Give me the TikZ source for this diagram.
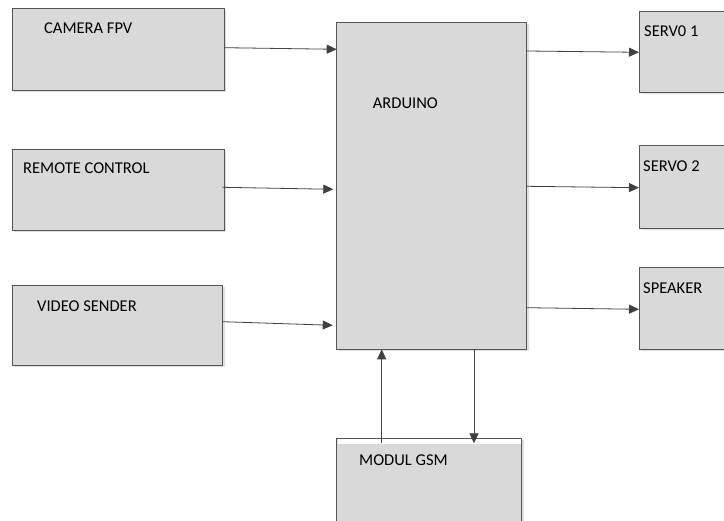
\documentclass[tikz,border=0pt]{standalone}
\usepackage{fontspec}
\setmainfont{Carlito}
\usetikzlibrary{arrows.meta,calc,shadows}
\definecolor{boxfill}{HTML}{D9D9D9}
\definecolor{boxline}{HTML}{555555}
\definecolor{arrline}{HTML}{404040}
\tikzset{
  blk/.style={draw=boxline, line width=0.9pt, fill=boxfill, anchor=north west,
    inner sep=0pt, outer sep=0pt,
    drop shadow={shadow xshift=1.8pt, shadow yshift=-1.8pt, fill=black!25, opacity=0.5}},
  lbl/.style={anchor=base west, inner sep=0pt, font=\fontsize{16.5}{18}\selectfont, text=black},
  conn/.style={draw=arrline, line width=0.8pt, -{Triangle[length=10pt,width=9pt]}}
}
\begin{document}
\begin{tikzpicture}[x=1pt,y=-1pt]
\useasboundingbox (0,0) rectangle (724,521);
\clip (0,0) rectangle (724,521);
% boxes
\node[blk, minimum width=212pt, minimum height=81.7pt] (cam) at (12.3,8.3) {};
\node[blk, minimum width=212pt, minimum height=81.7pt] (rc) at (12.3,149) {};
\node[blk, minimum width=210.4pt, minimum height=80.7pt] (vs) at (12.3,285) {};
\node[blk, minimum width=190pt, minimum height=326.6pt] (ard) at (336.7,22.7) {};
\node[blk, minimum width=110pt, minimum height=81.3pt] (s1) at (639,11) {};
\node[blk, minimum width=110pt, minimum height=82.3pt] (s2) at (639,145.7) {};
\node[blk, minimum width=110pt, minimum height=81.6pt] (sp) at (639,267.7) {};
\node[blk, minimum width=185pt, minimum height=110pt] (gsm) at (336.7,438.3) {};
\fill[white] (337.5,439.1) rectangle (520.9,444.3);
% labels
\node[lbl] (tcam) at (44,34) {CAMERA FPV};
\node[lbl] (trc) at (23,174) {REMOTE CONTROL};
\node[lbl] (tvs) at (37,311.5) {VIDEO SENDER};
\node[lbl] (tard) at (372.7,109) {ARDUINO};
\node[lbl] (ts1) at (644,37) {SERV0 1};
\node[lbl] (ts2) at (643,172) {SERVO 2};
\node[lbl] (tsp) at (643,294) {SPEAKER};
\node[lbl] (tgsm) at (359,466) {MODUL GSM};
% connectors
\draw[conn] ($(cam.north east)+(0,39.4)$) -- ($(ard.north west)+(0,26.6)$);
\draw[conn] ($(rc.north east)+(-2,38.3)$) -- ($(ard.north west)+(-3.4,166.6)$);
\draw[conn] ($(vs.north east)+(0,36.7)$) -- ($(ard.north west)+(-4,302.6)$);
\draw[conn] ($(ard.north east)+(0,28.3)$) -- ($(s1.north west)+(0,41.3)$);
\draw[conn] ($(ard.north east)+(0,163.6)$) -- ($(s2.north west)+(0,42)$);
\draw[conn] ($(ard.north east)+(0,285)$) -- ($(sp.north west)+(0,41.6)$);
\draw[conn] ($(gsm.north west)+(45,5)$) -- ($(ard.south west)+(45,0)$);
\draw[conn] ($(ard.south west)+(137.3,0)$) -- ($(gsm.north west)+(137.3,5)$);
\end{tikzpicture}
\end{document}
